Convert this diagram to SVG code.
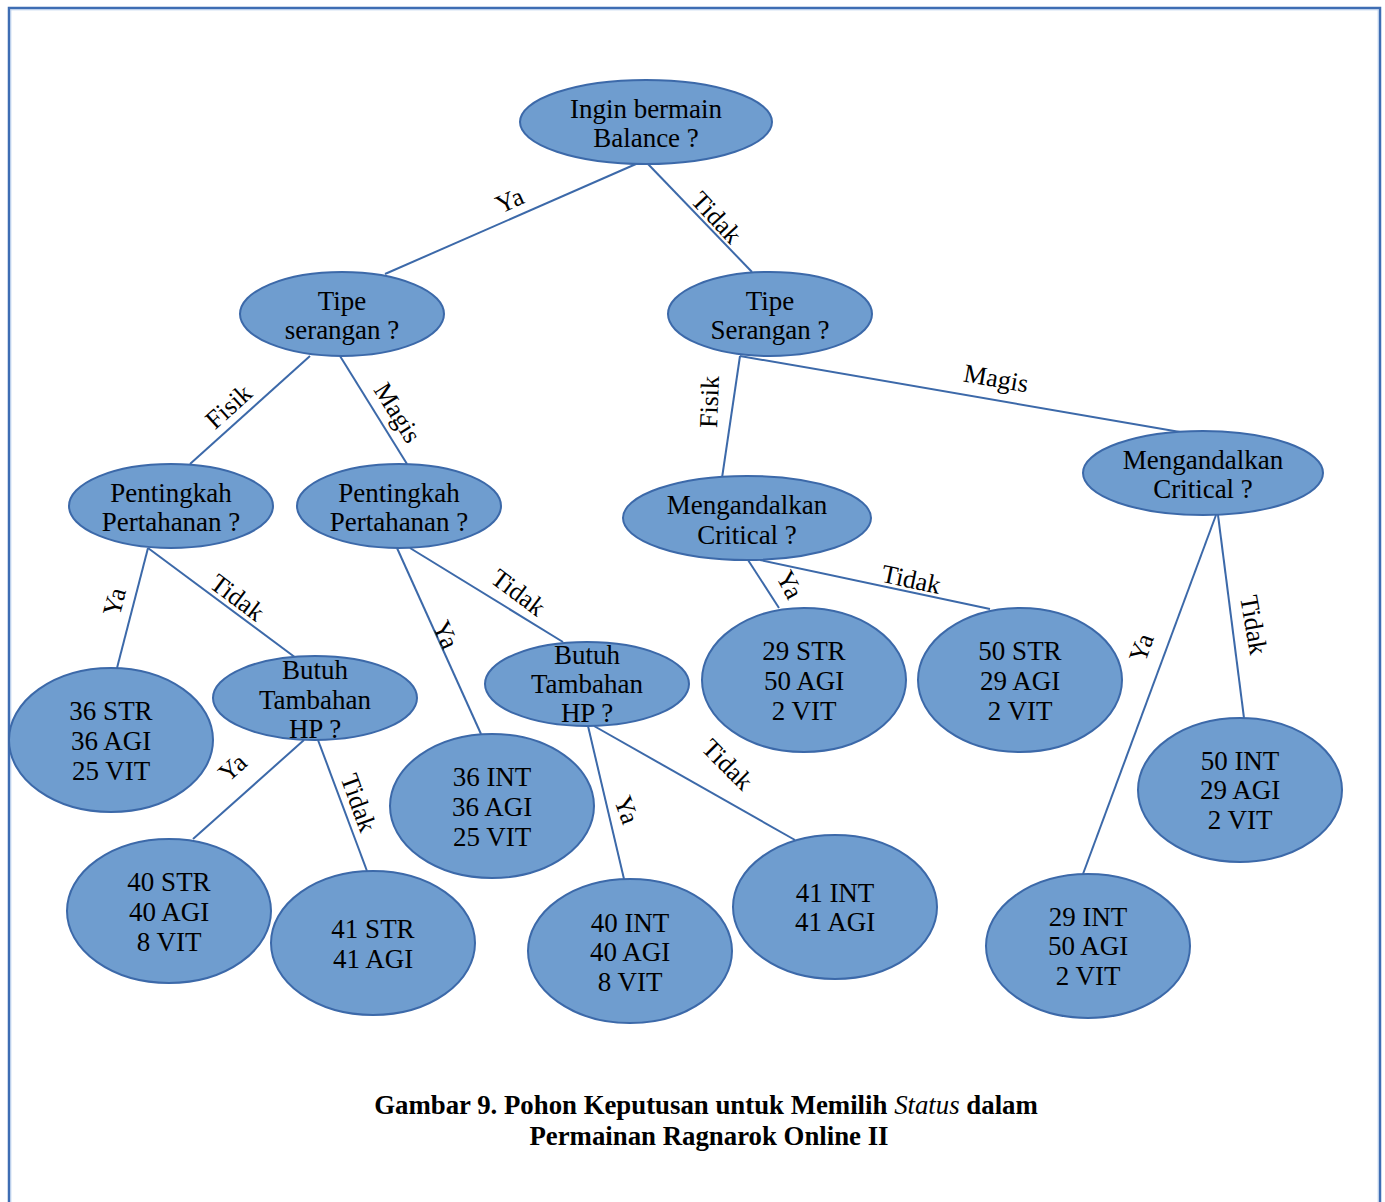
<svg xmlns="http://www.w3.org/2000/svg" width="1385" height="1202" viewBox="0 0 1385 1202">
<style>
.n{fill:#6f9dcf;stroke:#3c69a9;stroke-width:2}
.t{font-family:"Liberation Serif","Times New Roman",serif;font-size:27px;fill:#000;text-anchor:middle}
.l{font-family:"Liberation Serif","Times New Roman",serif;font-size:26px;fill:#000;text-anchor:middle}
.c{stroke:#3c69a9;stroke-width:2;fill:none}
.cap{font-family:"Liberation Serif","Times New Roman",serif;font-size:26.8px;font-weight:bold;fill:#000;text-anchor:middle}
</style>
<rect width="1385" height="1202" fill="#fff"/>
<path d="M9,1202 V8 H1380 V1202" fill="none" stroke="#3e6db3" stroke-width="2.5"/>
<path d="M10.8,1202 V9.8 H1378.2 V1202" fill="none" stroke="#b4cbeb" stroke-width="1"/>

<g id="connectors">
<line class="c" x1="636" y1="164" x2="385" y2="274"/>
<line class="c" x1="648" y1="164" x2="752" y2="272"/>
<line class="c" x1="310" y1="356" x2="190" y2="464"/>
<line class="c" x1="340" y1="356" x2="407" y2="464"/>
<line class="c" x1="740" y1="356" x2="722" y2="478"/>
<line class="c" x1="740" y1="356" x2="1180" y2="432"/>
<line class="c" x1="148" y1="548" x2="117" y2="668"/>
<line class="c" x1="148" y1="548" x2="296" y2="658"/>
<line class="c" x1="397" y1="548" x2="481" y2="734"/>
<line class="c" x1="410" y1="548" x2="563" y2="642"/>
<line class="c" x1="304" y1="740" x2="193" y2="839"/>
<line class="c" x1="318" y1="740" x2="367" y2="871"/>
<line class="c" x1="588" y1="726" x2="624" y2="879"/>
<line class="c" x1="594" y1="726" x2="795" y2="840"/>
<line class="c" x1="748" y1="560" x2="779" y2="608"/>
<line class="c" x1="760" y1="560" x2="990" y2="609"/>
<line class="c" x1="1216" y1="515" x2="1083" y2="874"/>
<line class="c" x1="1218" y1="515" x2="1244" y2="718"/>
<text class="l" transform="translate(510,201) rotate(-24)" dy="8">Ya</text>
<text class="l" transform="translate(716,218) rotate(47)" dy="8">Tidak</text>
<text class="l" transform="translate(229,407) rotate(-42)" dy="8">Fisik</text>
<text class="l" transform="translate(397,413) rotate(58)" dy="8">Magis</text>
<text class="l" transform="translate(710,402) rotate(-88)" dy="8">Fisik</text>
<text class="l" transform="translate(996,379) rotate(10)" dy="8">Magis</text>
<text class="l" transform="translate(115,602) rotate(-75)" dy="8">Ya</text>
<text class="l" transform="translate(237,598) rotate(37)" dy="8">Tidak</text>
<text class="l" transform="translate(445,635) rotate(66)" dy="8">Ya</text>
<text class="l" transform="translate(518,593) rotate(37)" dy="8">Tidak</text>
<text class="l" transform="translate(233,768) rotate(-42)" dy="8">Ya</text>
<text class="l" transform="translate(358,803) rotate(70)" dy="8">Tidak</text>
<text class="l" transform="translate(626,810) rotate(70)" dy="8">Ya</text>
<text class="l" transform="translate(727,765) rotate(45)" dy="8">Tidak</text>
<text class="l" transform="translate(789,585) rotate(62)" dy="8">Ya</text>
<text class="l" transform="translate(911,580) rotate(12)" dy="8">Tidak</text>
<text class="l" transform="translate(1142,648) rotate(-70)" dy="8">Ya</text>
<text class="l" transform="translate(1253,625) rotate(80)" dy="8">Tidak</text>
</g>

<g id="root"><ellipse class="n" cx="646" cy="122" rx="126" ry="42"/><text class="t" x="646" y="118">Ingin bermain</text><text class="t" x="646" y="147">Balance ?</text></g>
<g id="tipe-l"><ellipse class="n" cx="342" cy="314" rx="102" ry="42"/><text class="t" x="342" y="310">Tipe</text><text class="t" x="342" y="339">serangan ?</text></g>
<g id="tipe-r"><ellipse class="n" cx="770" cy="314" rx="102" ry="42"/><text class="t" x="770" y="310">Tipe</text><text class="t" x="770" y="339">Serangan ?</text></g>
<g id="penting-1"><ellipse class="n" cx="171" cy="506" rx="102" ry="42"/><text class="t" x="171" y="502">Pentingkah</text><text class="t" x="171" y="531">Pertahanan ?</text></g>
<g id="penting-2"><ellipse class="n" cx="399" cy="506" rx="102" ry="42"/><text class="t" x="399" y="502">Pentingkah</text><text class="t" x="399" y="531">Pertahanan ?</text></g>
<g id="critical-1"><ellipse class="n" cx="747" cy="518" rx="124" ry="42"/><text class="t" x="747" y="514">Mengandalkan</text><text class="t" x="747" y="544">Critical ?</text></g>
<g id="critical-2"><ellipse class="n" cx="1203" cy="473" rx="120" ry="42"/><text class="t" x="1203" y="469">Mengandalkan</text><text class="t" x="1203" y="498">Critical ?</text></g>
<g id="hp-1"><ellipse class="n" cx="315" cy="698" rx="102" ry="42"/><text class="t" x="315" y="679">Butuh</text><text class="t" x="315" y="709">Tambahan</text><text class="t" x="315" y="738">HP ?</text></g>
<g id="hp-2"><ellipse class="n" cx="587" cy="684" rx="102" ry="42"/><text class="t" x="587" y="664">Butuh</text><text class="t" x="587" y="693">Tambahan</text><text class="t" x="587" y="722">HP ?</text></g>
<g id="r-36str"><ellipse class="n" cx="111" cy="740" rx="102" ry="72"/><text class="t" x="111" y="720">36 STR</text><text class="t" x="111" y="750">36 AGI</text><text class="t" x="111" y="780">25 VIT</text></g>
<g id="r-40str"><ellipse class="n" cx="169" cy="911" rx="102" ry="72"/><text class="t" x="169" y="891">40 STR</text><text class="t" x="169" y="921">40 AGI</text><text class="t" x="169" y="951">8 VIT</text></g>
<g id="r-41str"><ellipse class="n" cx="373" cy="943" rx="102" ry="72"/><text class="t" x="373" y="938">41 STR</text><text class="t" x="373" y="968">41 AGI</text></g>
<g id="r-36int"><ellipse class="n" cx="492" cy="806" rx="102" ry="72"/><text class="t" x="492" y="786">36 INT</text><text class="t" x="492" y="816">36 AGI</text><text class="t" x="492" y="846">25 VIT</text></g>
<g id="r-40int"><ellipse class="n" cx="630" cy="951" rx="102" ry="72"/><text class="t" x="630" y="932">40 INT</text><text class="t" x="630" y="961">40 AGI</text><text class="t" x="630" y="991">8 VIT</text></g>
<g id="r-41int"><ellipse class="n" cx="835" cy="907" rx="102" ry="72"/><text class="t" x="835" y="902">41 INT</text><text class="t" x="835" y="931">41 AGI</text></g>
<g id="r-29str"><ellipse class="n" cx="804" cy="680" rx="102" ry="72"/><text class="t" x="804" y="660">29 STR</text><text class="t" x="804" y="690">50 AGI</text><text class="t" x="804" y="720">2 VIT</text></g>
<g id="r-50str"><ellipse class="n" cx="1020" cy="680" rx="102" ry="72"/><text class="t" x="1020" y="660">50 STR</text><text class="t" x="1020" y="690">29 AGI</text><text class="t" x="1020" y="720">2 VIT</text></g>
<g id="r-50int"><ellipse class="n" cx="1240" cy="790" rx="102" ry="72"/><text class="t" x="1240" y="770">50 INT</text><text class="t" x="1240" y="799">29 AGI</text><text class="t" x="1240" y="829">2 VIT</text></g>
<g id="r-29int"><ellipse class="n" cx="1088" cy="946" rx="102" ry="72"/><text class="t" x="1088" y="926">29 INT</text><text class="t" x="1088" y="955">50 AGI</text><text class="t" x="1088" y="985">2 VIT</text></g>

<g id="caption">
<text class="cap" x="706" y="1114">Gambar 9. Pohon Keputusan untuk Memilih <tspan font-style="italic" font-weight="normal">Status</tspan> dalam</text>
<text class="cap" x="709" y="1145">Permainan Ragnarok Online II</text>
</g>
</svg>
